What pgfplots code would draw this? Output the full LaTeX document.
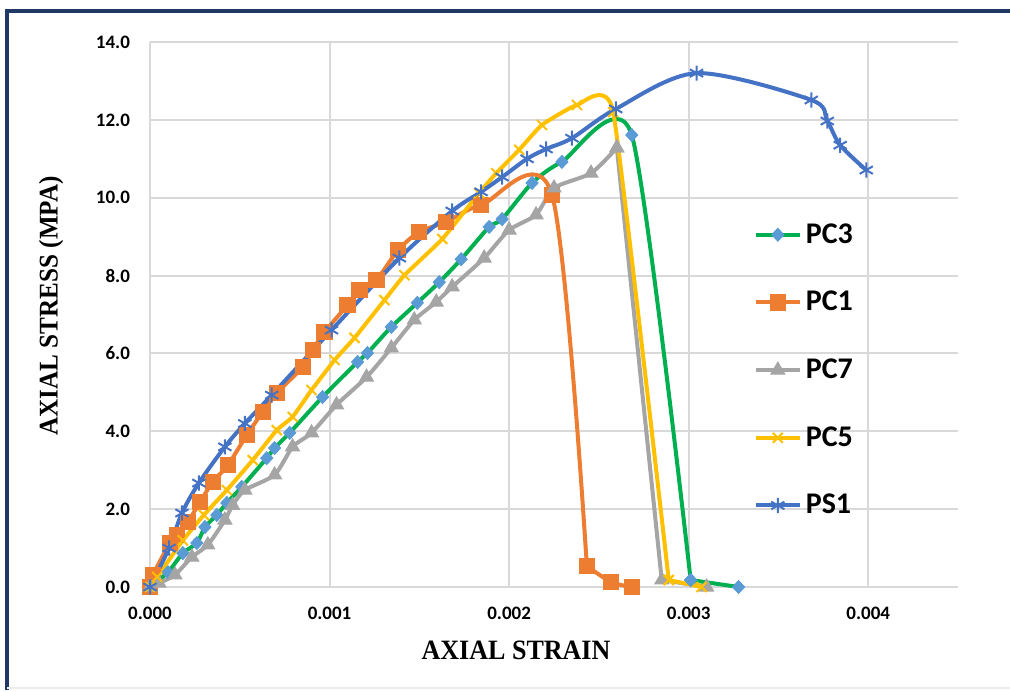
\documentclass[border=0pt]{standalone}
\usepackage{fontspec}
\setmainfont{Carlito}
\newfontfamily\labelfont[FakeStretch=0.93]{Liberation Serif}
\usepackage{pgfplots}
\pgfplotsset{compat=1.18}
\definecolor{pcgreen}{RGB}{0,176,80}
\definecolor{pcblue}{RGB}{91,155,213}
\definecolor{pcorange}{RGB}{237,125,49}
\definecolor{pcgray}{RGB}{165,165,165}
\definecolor{pcyellow}{RGB}{255,192,0}
\definecolor{psblue}{RGB}{68,114,196}
\definecolor{gridgray}{RGB}{217,217,217}
\definecolor{framenavy}{RGB}{31,56,100}

\begin{document}
\begin{tikzpicture}
  \useasboundingbox (0,0) rectangle (505pt,345pt);
  \draw[framenavy, line width=2pt] (3.5pt,0pt) -- (3.5pt,339.5pt) -- (505pt,339.5pt);
  \draw[gray!15, line width=0.6pt] (3.5pt,1pt) -- (505pt,1pt);
  \begin{axis}[
    at={(75pt,51.5pt)}, anchor=south west,
    scale only axis, width=404pt, height=272.5pt,
    xmin=0, xmax=0.0045, ymin=0, ymax=14,
    xtick={0,0.001,0.002,0.003,0.004},
    ytick={0,2,...,14},
    grid=major,
    grid style={gridgray, line width=1pt},
    axis line style={draw=none},
    major tick length=0pt,
    scaled x ticks=false,
    clip=false,
    /pgf/number format/assume math mode=true,
    tick label style={font=\bfseries\fontsize{9.5}{11}\selectfont},
    x tick label style={/pgf/number format/fixed, /pgf/number format/fixed zerofill, /pgf/number format/precision=3, yshift=-6.5pt},
    y tick label style={/pgf/number format/fixed, /pgf/number format/fixed zerofill, /pgf/number format/precision=1, xshift=-6.5pt},
    xlabel={AXIAL STRAIN},
    ylabel={AXIAL STRESS (MPA)},
    every axis x label/.style={at={(axis description cs:0.453,-0.1156)}, anchor=center,
      font=\labelfont\bfseries\fontsize{14}{16}\selectfont},
    every axis y label/.style={at={(axis description cs:-0.1225,0.516)}, anchor=center, rotate=90,
      font=\labelfont\bfseries\fontsize{13.5}{16}\selectfont},
    legend cell align=left,
    legend style={at={(0.7394,0.398)}, anchor=west, draw=none, fill=none,
      font=\bfseries\fontsize{15}{17}\selectfont, row sep=18.5pt},
    legend image code/.code={\draw[mark repeat=2, mark phase=2, #1] plot coordinates {(0pt,0pt) (11pt,0pt) (22pt,0pt)};},
    every axis plot/.append style={line width=2pt},
    green style/.style={pcgreen, mark=diamond*, mark size=3.2pt, mark options={fill=pcblue, draw=pcblue, line width=0.5pt, xscale=1.25}},
    orange style/.style={pcorange, mark=square*, mark size=3.8pt, mark options={fill=pcorange, line width=0.5pt}},
    gray style/.style={pcgray, mark=triangle*, mark size=4pt, mark options={fill=pcgray, line width=0.5pt}},
    yellow style/.style={pcyellow, mark=x, mark size=3.5pt, mark options={line width=1pt}},
    blue style/.style={psblue, mark=asterisk, mark size=3.8pt, mark options={line width=1pt}},
  ]
    % PC3
    \addplot[green style, smooth, tension=0.4] coordinates {
      (0,0) (0.0001,0.38) (0.000183,0.87) (0.000261,1.13) (0.000306,1.54) (0.000372,1.85)
      (0.000428,2.16) (0.000511,2.57) (0.00065,3.31) (0.000694,3.57) (0.000778,3.96)
      (0.000961,4.88) (0.001156,5.78) (0.001211,6.01) (0.001344,6.68) (0.001489,7.30)
      (0.001611,7.83) (0.001733,8.42) (0.001889,9.25) (0.001961,9.45) (0.002128,10.38)
      (0.002294,10.92) (0.002683,11.61) (0.003011,0.18)
    };
    \addlegendentry{PC3}
    \addplot[green style, forget plot] coordinates {(0.003011,0.18) (0.003278,0)};
    % PC1
    \addplot[orange style, smooth, tension=0.5] coordinates {
      (0,0) (0.0000167,0.31) (0.000111,1.13) (0.00015,1.34) (0.000211,1.67) (0.000278,2.18)
      (0.00035,2.70) (0.000433,3.13) (0.000539,3.90) (0.000628,4.50) (0.000706,4.98)
      (0.00085,5.65) (0.000906,6.09) (0.000972,6.55) (0.0011,7.24) (0.001167,7.63)
      (0.001261,7.89) (0.001383,8.66) (0.0015,9.12) (0.00165,9.38) (0.001844,9.81)
      (0.002239,10.07) (0.002433,0.54)
    };
    \addlegendentry{PC1}
    \addplot[orange style, smooth, tension=0.5, forget plot] coordinates {(0.002433,0.54) (0.002567,0.13) (0.002683,0)};
    % PC7
    \addplot[gray style, smooth, tension=0.4] coordinates {
      (0,0) (0.00005,0.1) (0.000139,0.31) (0.000233,0.77) (0.000322,1.08) (0.000417,1.72)
      (0.00046,2.1) (0.000528,2.49) (0.000694,2.88) (0.000794,3.6) (0.0009,3.96)
      (0.001039,4.68) (0.001206,5.39) (0.001344,6.14) (0.001472,6.86) (0.001594,7.32)
      (0.001683,7.71) (0.001861,8.45) (0.002,9.17) (0.00215,9.56) (0.00225,10.25)
      (0.002456,10.63) (0.0026,11.28)
    };
    \addlegendentry{PC7}
    \addplot[gray style, forget plot] coordinates {(0.0026,11.28) (0.00285,0.18) (0.0031,0)};
    % PC5
    \addplot[yellow style, smooth, tension=0.25] coordinates {
      (0,0) (0.00004,0.26) (0.000183,1.2) (0.0003,1.85) (0.000428,2.49) (0.000572,3.26)
      (0.000706,4.03) (0.000794,4.37) (0.0009,5.06) (0.001028,5.83) (0.001139,6.4)
      (0.001306,7.37) (0.001417,8.01) (0.001628,8.94) (0.001833,10.12) (0.001928,10.63)
      (0.002056,11.23) (0.002183,11.87) (0.002378,12.38) (0.00258,12.2) (0.002889,0.18)
    };
    \addlegendentry{PC5}
    \addplot[yellow style, forget plot] coordinates {(0.002889,0.18) (0.003072,0)};
    % PS1
    \addplot[blue style, smooth, tension=0.5] coordinates {
      (0,0) (0.000106,1.0) (0.000178,1.9) (0.000272,2.67) (0.000417,3.6) (0.000528,4.2)
      (0.000678,4.93) (0.001011,6.6) (0.001389,8.45) (0.001683,9.66) (0.001844,10.15)
      (0.001961,10.53) (0.0021,11.0) (0.002206,11.25) (0.00235,11.53) (0.002594,12.28)
      (0.003044,13.2) (0.003683,12.51) (0.003772,11.97) (0.003844,11.35) (0.003989,10.71)
    };
    \addlegendentry{PS1}
  \end{axis}
\end{tikzpicture}
\end{document}
